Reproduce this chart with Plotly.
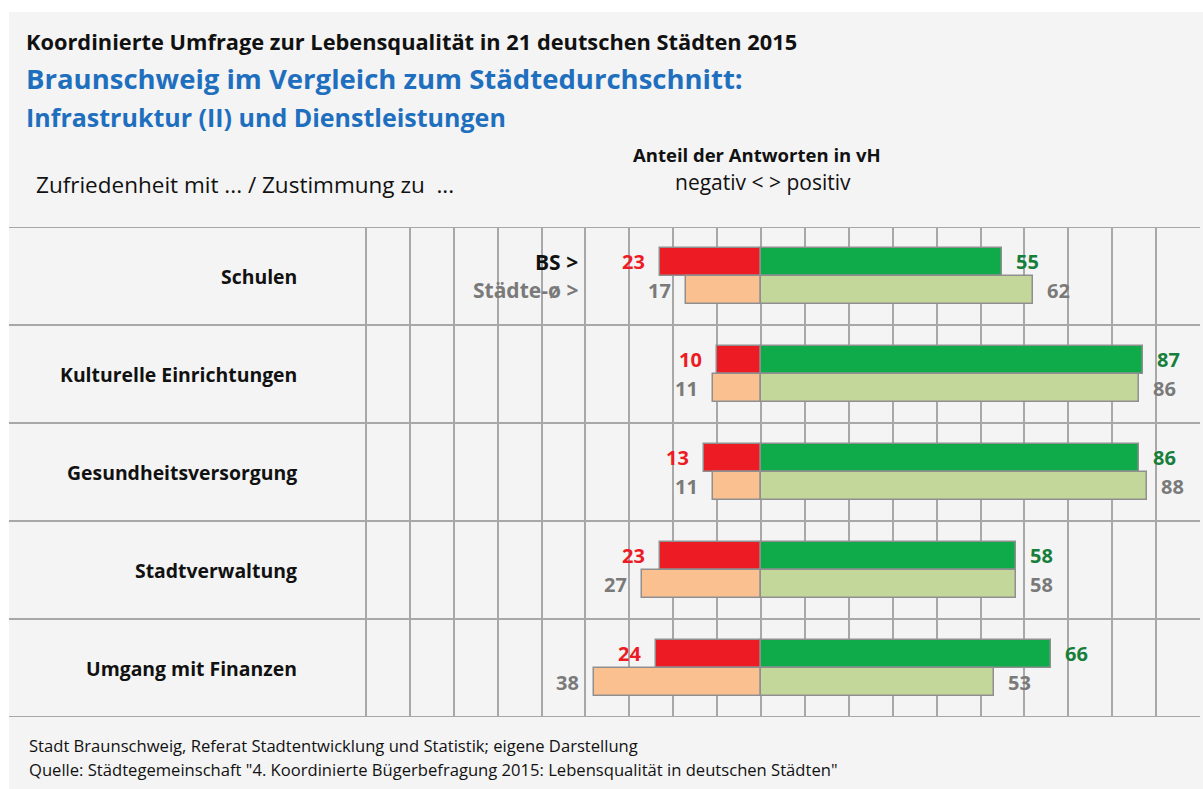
import plotly.graph_objects as go

categories = ["Schulen", "Kulturelle Einrichtungen", "Gesundheitsversorgung",
              "Stadtverwaltung", "Umgang mit Finanzen"]
bs_negative = [23, 10, 13, 23, 24]
bs_positive = [55, 87, 86, 58, 66]
avg_negative = [17, 11, 11, 27, 38]
avg_positive = [62, 86, 88, 58, 53]
x_ticks = list(range(-100, 101, 10))

W, H = 1203, 789
L, R, T, B = 322, 1200, 227, 717
FONT = "Open Sans"

def px(x):
    return (x - L) / (R - L)

def py(y):
    return (B - y) / (B - T)

RED = "#ed1c24"
GREEN = "#0fab4b"
ORANGE = "#fac08f"
LGREEN = "#c4d79b"
EDGE = "#8f8f8f"
GREEN_TXT = "#177f3b"
GREY_TXT = "#7a7a7a"

n = len(categories)
y_bs = [i - 0.145 for i in range(n)]
y_avg = [i + 0.145 for i in range(n)]
bw = 0.28

fig = go.Figure()

def bar(xv, yv, color):
    fig.add_trace(go.Bar(x=xv, y=yv, orientation="h", width=bw,
                         marker=dict(color=color, line=dict(color=EDGE, width=1.5)),
                         hoverinfo="skip", showlegend=False))

bar([-v for v in bs_negative], y_bs, RED)
bar(bs_positive, y_bs, GREEN)
bar([-v for v in avg_negative], y_avg, ORANGE)
bar(avg_positive, y_avg, LGREEN)

ann = []
lab_font = 20
for i in range(n):
    ann.append(dict(x=-bs_negative[i], y=y_bs[i], xref="x", yref="y", text=f"<b>{bs_negative[i]}</b>",
                    showarrow=False, xanchor="right", xshift=-13,
                    font=dict(family=FONT, size=lab_font, color=RED)))
    ann.append(dict(x=bs_positive[i], y=y_bs[i], xref="x", yref="y", text=f"<b>{bs_positive[i]}</b>",
                    showarrow=False, xanchor="left", xshift=12,
                    font=dict(family=FONT, size=lab_font, color=GREEN_TXT)))
    ann.append(dict(x=-avg_negative[i], y=y_avg[i], xref="x", yref="y", text=f"<b>{avg_negative[i]}</b>",
                    showarrow=False, xanchor="right", xshift=-13,
                    font=dict(family=FONT, size=lab_font, color=GREY_TXT)))
    ann.append(dict(x=avg_positive[i], y=y_avg[i], xref="x", yref="y", text=f"<b>{avg_positive[i]}</b>",
                    showarrow=False, xanchor="left", xshift=12,
                    font=dict(family=FONT, size=lab_font, color=GREY_TXT)))
    ann.append(dict(x=px(299), y=i, xref="paper", yref="y", text=f"<b>{categories[i]}</b>",
                    showarrow=False, xanchor="right",
                    font=dict(family=FONT, size=19.4, color="#111111")))

ann.append(dict(x=-41.3, y=y_bs[0], xref="x", yref="y", text="<b>BS ></b>", showarrow=False,
                xanchor="right", font=dict(family=FONT, size=21, color="#111111")))
ann.append(dict(x=-41.3, y=y_avg[0], xref="x", yref="y", text="<b>Städte-ø ></b>", showarrow=False,
                xanchor="right", font=dict(family=FONT, size=21, color=GREY_TXT)))

def ptext(text, x, y, size, color, anchor="left", bold=False):
    t = f"<b>{text}</b>" if bold else text
    ann.append(dict(x=px(x), y=py(y), xref="paper", yref="paper", text=t, showarrow=False,
                    xanchor=anchor, yanchor="middle", borderpad=0,
                    font=dict(family=FONT, size=size, color=color)))

BLUE = "#1f6fbf"
ptext("Koordinierte Umfrage zur Lebensqualität in 21 deutschen Städten 2015", 25, 42, 21.8, "#111111", bold=True)
ptext("Braunschweig im Vergleich zum Städtedurchschnitt:", 25, 79, 27.5, BLUE, bold=True)
ptext("Infrastruktur (II) und Dienstleistungen", 25, 117, 25, BLUE, bold=True)
ptext("Anteil der Antworten in vH", 757, 154, 18.5, "#111111", anchor="center", bold=True)
ptext("negativ < > positiv", 763, 182, 21, "#111111", anchor="center")
ptext("Zufriedenheit mit ... / Zustimmung zu  ...", 35, 184, 22.5, "#111111")
ptext("Stadt Braunschweig, Referat Stadtentwicklung und Statistik; eigene Darstellung", 28, 745, 16.6, "#111111")
ptext("Quelle: Städtegemeinschaft \"4. Koordinierte Bügerbefragung 2015: Lebensqualität in deutschen Städten\"",
      28, 769, 16.6, "#111111")

shapes = [
    dict(type="rect", xref="paper", yref="paper", x0=px(9), x1=px(1204), y0=py(12), y1=py(790),
         fillcolor="#f4f4f4", line=dict(width=0), layer="below"),
]
for k in range(n + 1):
    shapes.append(dict(type="line", xref="paper", yref="y", x0=px(9), x1=1.0, y0=k - 0.5, y1=k - 0.5,
                       line=dict(color="#a8a8a8", width=2), layer="above"))

fig.update_layout(
    width=W, height=H,
    margin=dict(l=L, r=W - R, t=T, b=H - B),
    paper_bgcolor="white", plot_bgcolor="#e1e1e1",
    barmode="overlay", bargap=0,
    xaxis=dict(range=[-100, 100], tickvals=x_ticks, showticklabels=False, showgrid=True,
               gridcolor="#a8a8a8", gridwidth=1.5, zeroline=True, zerolinecolor="#a8a8a8",
               zerolinewidth=1.5, ticks="", showline=False, fixedrange=True),
    yaxis=dict(range=[n - 0.5, -0.5], showticklabels=False, showgrid=False, zeroline=False,
               ticks="", showline=False, fixedrange=True),
    annotations=ann, shapes=shapes,
    font=dict(family=FONT),
)

fig.write_html("out.html", config={"displayModeBar": False},
               post_script="document.body.style.margin='0';document.body.style.overflow='hidden';")
